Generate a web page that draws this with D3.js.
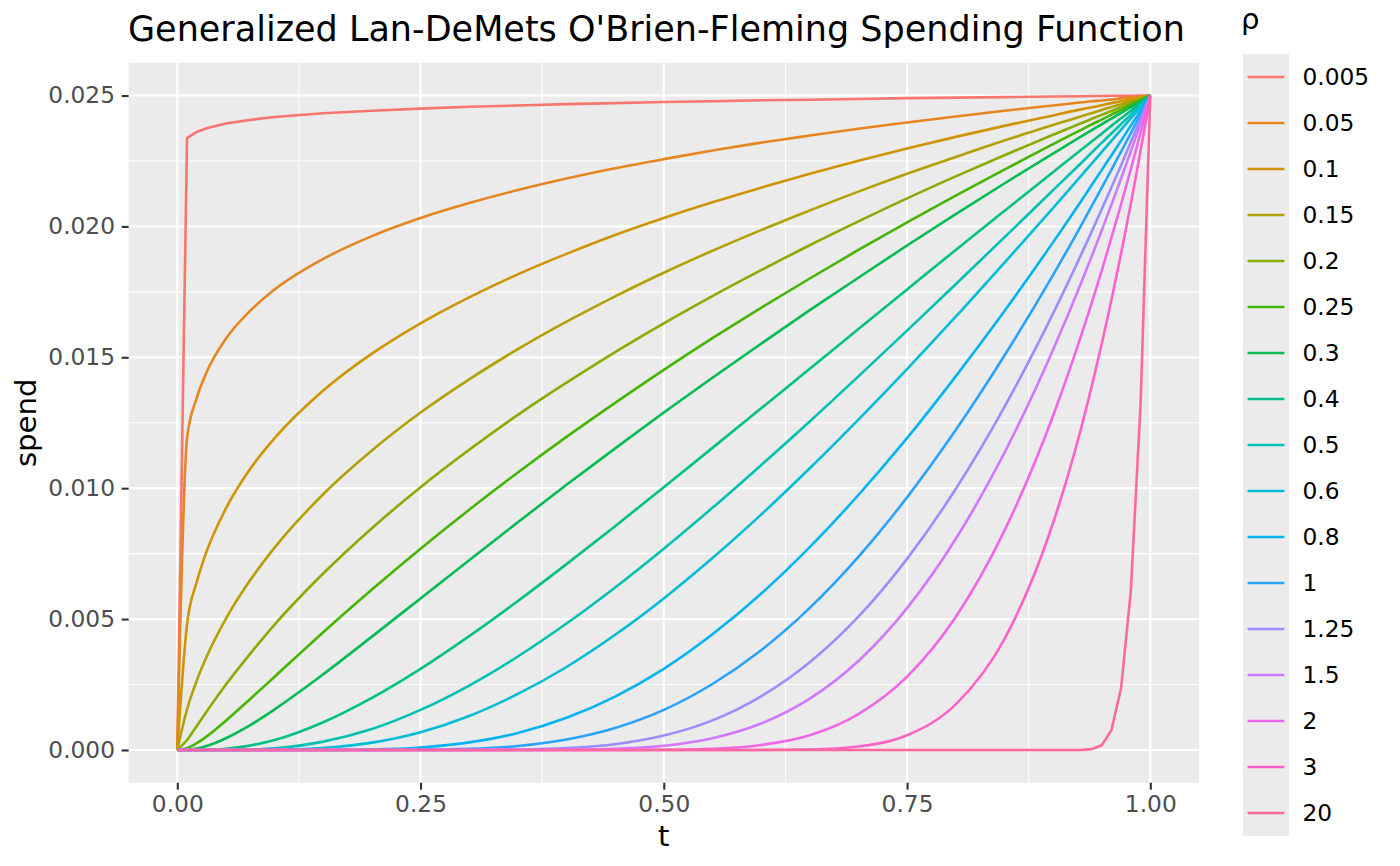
<!DOCTYPE html>
<html>
<head>
<meta charset="utf-8">
<script src="https://cdn.jsdelivr.net/npm/d3@7"></script>
<style>
  body { margin: 0; background: #fff; }
  svg { display: block; font-family: "DejaVu Sans", sans-serif; }
</style>
</head>
<body>
<div id="chart"></div>
<script>
// information time grid
const tGrid = [0, 0.01, 0.02, 0.03, 0.05, 0.075, 0.1, 0.15, 0.2, 0.25, 0.3, 0.35, 0.4, 0.45, 0.5,
  0.55, 0.6, 0.65, 0.7, 0.75, 0.8, 0.85, 0.9, 0.93, 0.94, 0.95, 0.96, 0.97, 0.98, 0.99, 1];

const rhoLabels = ["0.005", "0.05", "0.1", "0.15", "0.2", "0.25", "0.3", "0.4", "0.5", "0.6",
  "0.8", "1", "1.25", "1.5", "2", "3", "20"];

// spend values read along tGrid, one array per rho
const spend_0_005 = [0, 0.02337, 0.02361, 0.02375, 0.02393, 0.02407, 0.02418, 0.02432, 0.02442, 0.02450, 0.02457, 0.02462, 0.02467, 0.02471, 0.02475, 0.02478, 0.02482, 0.02484, 0.02487, 0.02490, 0.02492, 0.02494, 0.02496, 0.02497, 0.02498, 0.02498, 0.02499, 0.02499, 0.02499, 0.02500, 0.025];
const spend_0_05 = [0, 0.01191, 0.01345, 0.01442, 0.01571, 0.01678, 0.01759, 0.01876, 0.01963, 0.02032, 0.02089, 0.02139, 0.02183, 0.02222, 0.02257, 0.02290, 0.02320, 0.02347, 0.02373, 0.02397, 0.02420, 0.02442, 0.02462, 0.02474, 0.02478, 0.02481, 0.02485, 0.02489, 0.02493, 0.02496, 0.025];
const spend_0_1 = [0, 0.00479, 0.00642, 0.00757, 0.00923, 0.01074, 0.01191, 0.01373, 0.01514, 0.01630, 0.01729, 0.01817, 0.01895, 0.01967, 0.02032, 0.02092, 0.02148, 0.02201, 0.02251, 0.02298, 0.02342, 0.02384, 0.02424, 0.02448, 0.02455, 0.02463, 0.02471, 0.02478, 0.02485, 0.02493, 0.025];
const spend_0_15 = [0, 0.00155, 0.00265, 0.00355, 0.00502, 0.00649, 0.00773, 0.00977, 0.01144, 0.01289, 0.01416, 0.01531, 0.01636, 0.01733, 0.01823, 0.01907, 0.01986, 0.02061, 0.02133, 0.02201, 0.02265, 0.02328, 0.02387, 0.02422, 0.02433, 0.02445, 0.02456, 0.02467, 0.02478, 0.02489, 0.025];
const spend_0_2 = [0, 0.00038, 0.00092, 0.00146, 0.00250, 0.00368, 0.00479, 0.00674, 0.00847, 0.01004, 0.01147, 0.01280, 0.01403, 0.01520, 0.01630, 0.01734, 0.01833, 0.01928, 0.02019, 0.02107, 0.02191, 0.02272, 0.02350, 0.02396, 0.02411, 0.02426, 0.02441, 0.02456, 0.02471, 0.02485, 0.025];
const spend_0_25 = [0, 0.000068, 0.00026, 0.00051, 0.00112, 0.00195, 0.00280, 0.00450, 0.00613, 0.00769, 0.00918, 0.01060, 0.01196, 0.01326, 0.01452, 0.01573, 0.01689, 0.01801, 0.01910, 0.02015, 0.02118, 0.02217, 0.02314, 0.02371, 0.02390, 0.02408, 0.02427, 0.02445, 0.02464, 0.02482, 0.025];
const spend_0_3 = [0, 0.000008, 0.000057, 0.00015, 0.00045, 0.00095, 0.00155, 0.00289, 0.00433, 0.00579, 0.00725, 0.00870, 0.01013, 0.01152, 0.01289, 0.01422, 0.01552, 0.01680, 0.01804, 0.01927, 0.02047, 0.02164, 0.02278, 0.02346, 0.02368, 0.02390, 0.02412, 0.02434, 0.02456, 0.02478, 0.025];
const spend_0_4 = [0, 0, 0.000001, 0.000006, 0.000046, 0.00017, 0.00038, 0.00106, 0.00199, 0.00310, 0.00435, 0.00569, 0.00710, 0.00855, 0.01004, 0.01154, 0.01305, 0.01456, 0.01608, 0.01759, 0.01910, 0.02059, 0.02207, 0.02296, 0.02325, 0.02354, 0.02384, 0.02413, 0.02442, 0.02471, 0.025];
const spend_0_5 = [0, 0, 0, 0, 0.000002, 0.000019, 0.000068, 0.00032, 0.00080, 0.00153, 0.00246, 0.00357, 0.00483, 0.00621, 0.00769, 0.00925, 0.01088, 0.01255, 0.01427, 0.01602, 0.01779, 0.01958, 0.02138, 0.02246, 0.02283, 0.02319, 0.02355, 0.02391, 0.02427, 0.02464, 0.025];
const spend_0_6 = [0, 0, 0, 0, 0, 0.000001, 0.000008, 0.000075, 0.00028, 0.00068, 0.00130, 0.00214, 0.00317, 0.00440, 0.00579, 0.00733, 0.00899, 0.01076, 0.01262, 0.01455, 0.01655, 0.01861, 0.02070, 0.02198, 0.02241, 0.02284, 0.02327, 0.02370, 0.02413, 0.02457, 0.025];
const spend_0_8 = [0, 0, 0, 0, 0, 0, 0, 0.000002, 0.00002, 0.000095, 0.00029, 0.00065, 0.00123, 0.00204, 0.00310, 0.00442, 0.00597, 0.00775, 0.00974, 0.01191, 0.01427, 0.01676, 0.01939, 0.02103, 0.02159, 0.02215, 0.02271, 0.02327, 0.02385, 0.02442, 0.025];
const spend_1 = [0, 0, 0, 0, 0, 0, 0, 0, 0, 0.000007, 0.000043, 0.00015, 0.00040, 0.00084, 0.00153, 0.00252, 0.00381, 0.00543, 0.00738, 0.00965, 0.01222, 0.01506, 0.01814, 0.02011, 0.02079, 0.02147, 0.02216, 0.02286, 0.02356, 0.02428, 0.025];
const spend_1_25 = [0, 0, 0, 0, 0, 0, 0, 0, 0, 0, 0.000002, 0.000016, 0.000071, 0.00022, 0.00055, 0.00113, 0.00205, 0.00335, 0.00509, 0.00730, 0.00997, 0.01310, 0.01667, 0.01901, 0.01982, 0.02065, 0.02149, 0.02234, 0.02322, 0.02410, 0.025];
const spend_1_5 = [0, 0, 0, 0, 0, 0, 0, 0, 0, 0, 0, 0.000001, 0.000008, 0.000046, 0.00016, 0.00045, 0.00101, 0.00196, 0.00340, 0.00542, 0.00806, 0.01135, 0.01528, 0.01794, 0.01888, 0.01984, 0.02083, 0.02183, 0.02287, 0.02392, 0.025];
const spend_2 = [0, 0, 0, 0, 0, 0, 0, 0, 0, 0, 0, 0, 0, 0, 0.000007, 0.000047, 0.00019, 0.00056, 0.00137, 0.00280, 0.00508, 0.00837, 0.01276, 0.01595, 0.01710, 0.01830, 0.01956, 0.02085, 0.02219, 0.02357, 0.025];
const spend_3 = [0, 0, 0, 0, 0, 0, 0, 0, 0, 0, 0, 0, 0, 0, 0, 0, 0.000001, 0.000019, 0.00013, 0.00056, 0.00174, 0.00423, 0.00866, 0.01245, 0.01392, 0.01550, 0.01718, 0.01897, 0.02087, 0.02288, 0.025];
const spend_20 = [0, 0, 0, 0, 0, 0, 0, 0, 0, 0, 0, 0, 0, 0, 0, 0, 0, 0, 0, 0, 0, 0, 0, 0.000004, 0.000032, 0.00018, 0.00075, 0.00237, 0.00609, 0.01320, 0.025];

const spendSeries = [spend_0_005, spend_0_05, spend_0_1, spend_0_15, spend_0_2, spend_0_25, spend_0_3,
  spend_0_4, spend_0_5, spend_0_6, spend_0_8, spend_1, spend_1_25, spend_1_5, spend_2, spend_3, spend_20];

const xTicks = [0, 0.25, 0.5, 0.75, 1];
const xTickLabels = ["0.00", "0.25", "0.50", "0.75", "1.00"];
const xMinor = [0.125, 0.375, 0.625, 0.875];
const yTicks = [0, 0.005, 0.01, 0.015, 0.02, 0.025];
const yTickLabels = ["0.000", "0.005", "0.010", "0.015", "0.020", "0.025"];
const yMinor = [0.0025, 0.0075, 0.0125, 0.0175, 0.0225];

// ggplot-style hue palette (polar LUV)
function hclLuv(h, c, l) {
    const hr = h * Math.PI / 180;
    const u = c * Math.cos(hr), v = c * Math.sin(hr);
    const Xn = 95.047, Yn = 100, Zn = 108.883;
    const den = Xn + 15 * Yn + 3 * Zn;
    const un = 4 * Xn / den, vn = 9 * Yn / den;
    const Y = Yn * Math.pow((l + 16) / 116, 3);
    const up = u / (13 * l) + un, vp = v / (13 * l) + vn;
    const X = Y * 9 * up / (4 * vp);
    const Z = Y * (12 - 3 * up - 20 * vp) / (4 * vp);
    const lin = [
        3.2406 * X - 1.5372 * Y - 0.4986 * Z,
        -0.9689 * X + 1.8758 * Y + 0.0415 * Z,
        0.0557 * X - 0.2040 * Y + 1.0570 * Z
    ].map(x => x / 100);
    const gam = x => {
        x = Math.max(0, Math.min(1, x));
        return x <= 0.0031308 ? 12.92 * x : 1.055 * Math.pow(x, 1 / 2.4) - 0.055;
    };
    return d3.rgb(...lin.map(x => Math.round(255 * gam(x)))).formatHex();
}
const palette = rhoLabels.map((_, i) => hclLuv(15 + i * 360 / rhoLabels.length, 100, 65));

const W = 1400, H = 866;
const panel = { left: 128.65, right: 1198.95, top: 62.8, bottom: 782.7 };
const tickFont = "23.3px", titleFont = "29.2px";

const svg = d3.select("#chart").append("svg")
    .attr("width", W)
    .attr("height", H);

const x = d3.scaleLinear().domain([-0.05, 1.05]).range([panel.left, panel.right]);
const y = d3.scaleLinear().domain([-0.00125, 0.02625]).range([panel.bottom, panel.top]);

// panel background and grid
svg.append("rect")
    .attr("x", panel.left).attr("y", panel.top)
    .attr("width", panel.right - panel.left)
    .attr("height", panel.bottom - panel.top)
    .attr("fill", "#EBEBEB");

const grid = svg.append("g");
grid.selectAll(".xminor").data(xMinor).join("line")
    .attr("x1", d => x(d)).attr("x2", d => x(d))
    .attr("y1", panel.top).attr("y2", panel.bottom)
    .attr("stroke", "#fff").attr("stroke-width", 1.1);
grid.selectAll(".yminor").data(yMinor).join("line")
    .attr("y1", d => y(d)).attr("y2", d => y(d))
    .attr("x1", panel.left).attr("x2", panel.right)
    .attr("stroke", "#fff").attr("stroke-width", 1.1);
grid.selectAll(".xmajor").data(xTicks).join("line")
    .attr("x1", d => x(d)).attr("x2", d => x(d))
    .attr("y1", panel.top).attr("y2", panel.bottom)
    .attr("stroke", "#fff").attr("stroke-width", 2.2);
grid.selectAll(".ymajor").data(yTicks).join("line")
    .attr("y1", d => y(d)).attr("y2", d => y(d))
    .attr("x1", panel.left).attr("x2", panel.right)
    .attr("stroke", "#fff").attr("stroke-width", 2.2);

// curves
const smooth = d3.line().x(d => x(d[0])).y(d => y(d[1])).curve(d3.curveMonotoneX);
const straight = d3.line().x(d => x(d[0])).y(d => y(d[1]));

svg.append("clipPath").attr("id", "panelclip")
    .append("rect")
    .attr("x", panel.left).attr("y", panel.top)
    .attr("width", panel.right - panel.left)
    .attr("height", panel.bottom - panel.top);

svg.append("g")
    .attr("clip-path", "url(#panelclip)")
    .selectAll("path")
    .data(spendSeries)
    .join("path")
    .attr("fill", "none")
    .attr("stroke", (d, i) => palette[i])
    .attr("stroke-width", 2.6)
    .attr("stroke-linejoin", "round")
    .attr("d", (vals, i) => {
        const pts = tGrid.map((t, k) => [t, vals[k]]);
        const first = i === 0, last = i === spendSeries.length - 1;
        return (first || last) ? straight(pts) : smooth(pts);
    });

// axes
const xAxis = svg.append("g")
    .attr("transform", `translate(0,${panel.bottom})`)
    .call(d3.axisBottom(x).tickValues(xTicks).tickSize(7).tickPadding(6.1)
        .tickFormat((d, i) => xTickLabels[i]));
const yAxis = svg.append("g")
    .attr("transform", `translate(${panel.left},0)`)
    .call(d3.axisLeft(y).tickValues(yTicks).tickSize(7).tickPadding(6.65)
        .tickFormat((d, i) => yTickLabels[i]));

[xAxis, yAxis].forEach(ax => {
    ax.select(".domain").remove();
    ax.selectAll(".tick line").attr("stroke", "#333333").attr("stroke-width", 2.1);
    ax.selectAll(".tick text")
        .attr("fill", "#4D4D4D")
        .style("font-size", tickFont)
        .style("font-family", "DejaVu Sans");
});

// titles
svg.append("text")
    .attr("x", 128).attr("y", 40.7)
    .style("font-size", "35px")
    .attr("fill", "#000")
    .text("Generalized Lan-DeMets O'Brien-Fleming Spending Function");

svg.append("text")
    .attr("x", (panel.left + panel.right) / 2).attr("y", 845.5)
    .attr("text-anchor", "middle")
    .style("font-size", titleFont)
    .text("t");

svg.append("text")
    .attr("transform", `translate(36,${(panel.top + panel.bottom) / 2}) rotate(-90)`)
    .attr("text-anchor", "middle")
    .style("font-size", titleFont)
    .text("spend");

// legend
const legend = svg.append("g").attr("transform", "translate(1243,54)");
legend.append("text")
    .attr("x", -2).attr("y", -25.5)
    .style("font-size", titleFont)
    .text("\u03C1");

legend.append("rect")
    .attr("width", 46).attr("height", 46 * rhoLabels.length)
    .attr("fill", "#EBEBEB");

rhoLabels.forEach((lab, i) => {
    const row = legend.append("g").attr("transform", `translate(0,${i * 46 + 23})`);
    row.append("line")
        .attr("x1", 4.6).attr("x2", 41.4)
        .attr("stroke", palette[i])
        .attr("stroke-width", 2.6);
    row.append("text")
        .attr("x", 59.5)
        .attr("dy", "0.35em")
        .style("font-size", tickFont)
        .text(lab);
});
</script>
</body>
</html>
